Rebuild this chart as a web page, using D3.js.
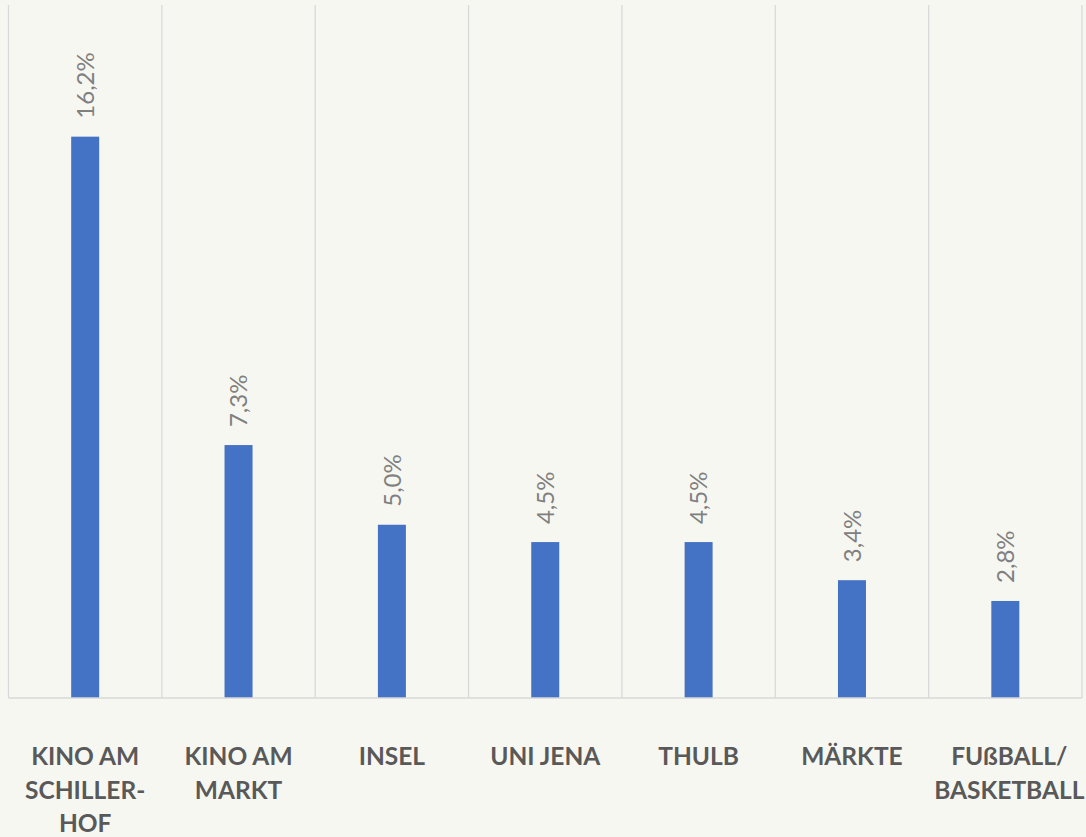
<!DOCTYPE html>
<html>
<head>
    <meta charset="utf-8">
    <title>Bar Chart</title>
</head>
<body style="margin:0; background:#f7f7f2;">
<style type="text/css">
    #renderer {
        width: 1086px;
        height: 837px;
        background: #f7f7f2;
        display: block;
    }
</style>
<script type="text/javascript" src="https://cdnjs.cloudflare.com/ajax/libs/d3/7.8.5/d3.min.js"></script>
<svg id='renderer'></svg>

<script type="text/javascript">
    var total_width = 1086;
    var total_height = 837;

    // 1. data
    var categories = ['KINO AM SCHILLER-HOF', 'KINO AM MARKT', 'INSEL', 'UNI JENA', 'THULB', 'MÄRKTE', 'FUßBALL/ BASKETBALL'];
    // how each category label wraps
    var category_lines = [
        ['KINO AM', 'SCHILLER-', 'HOF'],
        ['KINO AM', 'MARKT'],
        ['INSEL'],
        ['UNI JENA'],
        ['THULB'],
        ['MÄRKTE'],
        ['FUßBALL/', 'BASKETBALL']
    ];
    var values = [16.2, 7.3, 5.0, 4.5, 4.5, 3.4, 2.8];
    var value_labels = ['16,2%', '7,3%', '5,0%', '4,5%', '4,5%', '3,4%', '2,8%'];
    var y_max = 20;

    // 2. layout
    var plot_left = 8.5, plot_right = 1082, plot_top = 5, plot_bottom = 698;

    var root = d3.select('#renderer')
        .attr('width', total_width)
        .attr('height', total_height);

    var x = d3.scaleBand()
        .domain(categories)
        .range([plot_left, plot_right]);

    var y = d3.scaleLinear()
        .domain([0, y_max])
        .range([plot_bottom, plot_top]);

    var bar_width = 28;

    // gridlines at band boundaries
    var bounds = categories.map(function (c) { return x(c); }).concat([plot_right]);
    root.selectAll('line.grid')
        .data(bounds)
        .enter().append('line')
        .attr('class', 'grid')
        .attr('x1', function (d) { return d; })
        .attr('x2', function (d) { return d; })
        .attr('y1', plot_top)
        .attr('y2', plot_bottom)
        .attr('stroke', '#d9d9d9')
        .attr('stroke-width', 1.3);

    // bars
    root.selectAll('rect.bar')
        .data(values)
        .enter().append('rect')
        .attr('class', 'bar')
        .attr('x', function (d, i) { return x(categories[i]) + x.bandwidth() / 2 - bar_width / 2; })
        .attr('y', function (d) { return y(d); })
        .attr('width', bar_width)
        .attr('height', function (d) { return plot_bottom - y(d); })
        .attr('fill', '#4472c4');

    // axis line
    root.append('line')
        .attr('x1', plot_left)
        .attr('x2', plot_right)
        .attr('y1', plot_bottom)
        .attr('y2', plot_bottom)
        .attr('stroke', '#d9d9d9')
        .attr('stroke-width', 1.3);

    // value labels (rotated)
    root.selectAll('text.value')
        .data(values)
        .enter().append('text')
        .attr('class', 'value')
        .attr('transform', function (d, i) {
            var cx = x(categories[i]) + x.bandwidth() / 2;
            return 'translate(' + cx + ',' + (y(d) - 18) + ') rotate(-90)';
        })
        .attr('dy', '0.36em')
        .attr('text-anchor', 'start')
        .attr('font-family', 'Lato, "Open Sans", sans-serif')
        .attr('font-size', 24)
        .attr('fill', '#808080')
        .text(function (d, i) { return value_labels[i]; });

    // category labels
    var cat = root.selectAll('text.cat')
        .data(categories)
        .enter().append('text')
        .attr('class', 'cat')
        .attr('text-anchor', 'middle')
        .attr('font-family', 'Lato, "Open Sans", sans-serif')
        .attr('font-weight', 'bold')
        .attr('font-size', 24.5)
        .attr('fill', '#595959');

    cat.each(function (c, i) {
        var t = d3.select(this);
        var cx = x(c) + x.bandwidth() / 2 + (i === categories.length - 1 ? 4 : 0);
        category_lines[i].forEach(function (line, k) {
            t.append('tspan')
                .attr('x', cx)
                .attr('y', 765 + k * 33.5)
                .text(line);
        });
    });
</script>
</body>
</html>
